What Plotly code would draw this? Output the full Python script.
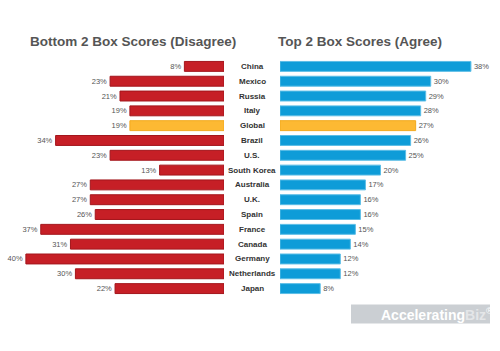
import plotly.graph_objects as go

countries = ["China", "Mexico", "Russia", "Italy", "Global", "Brazil", "U.S.", "South Korea",
             "Australia", "U.K.", "Spain", "France", "Canada", "Germany", "Netherlands", "Japan"]
disagree = [8, 23, 21, 19, 19, 34, 23, 13, 27, 27, 26, 37, 31, 40, 30, 22]
agree = [38, 30, 29, 28, 27, 26, 25, 20, 17, 16, 16, 15, 14, 12, 12, 8]
title_left = "Bottom 2 Box Scores (Disagree)"
title_right = "Top 2 Box Scores (Agree)"

RED, RED_LINE = "#C61F26", "#A3161C"
ORANGE, ORANGE_LINE = "#FDB933", "#F2A91E"
BLUE, BLUE_LINE = "#0E9CD8", "#5BBDE6"

left_colors = [ORANGE if c == "Global" else RED for c in countries]
left_lines = [ORANGE_LINE if c == "Global" else RED_LINE for c in countries]
right_colors = [ORANGE if c == "Global" else BLUE for c in countries]
right_lines = [ORANGE_LINE if c == "Global" else BLUE_LINE for c in countries]

FONT = "Liberation Sans, Arial, sans-serif"
W, H = 500, 351
T, B = 58.6, 54.6

fig = go.Figure()
fig.add_trace(go.Bar(
    y=countries, x=disagree, orientation="h", xaxis="x", yaxis="y",
    marker=dict(color=left_colors, line=dict(color=left_lines, width=1)),
    text=[f"{v}%" for v in disagree], textposition="outside", cliponaxis=False,
    textfont=dict(family=FONT, size=7.5, color="#555"), hoverinfo="skip"))
fig.add_trace(go.Bar(
    y=countries, x=agree, orientation="h", xaxis="x2", yaxis="y2",
    marker=dict(color=right_colors, line=dict(color=right_lines, width=1)),
    text=[f"{v}%" for v in agree], textposition="outside", cliponaxis=False,
    textfont=dict(family=FONT, size=7.5, color="#555"), hoverinfo="skip"))

ph = H - T - B
anns = []
for c in countries:
    anns.append(dict(x=252 / W, xref="paper", y=c, yref="y", text=f"<b>{c}</b>",
                     showarrow=False, xanchor="center", yanchor="middle",
                     font=dict(family=FONT, size=8, color="#333")))
ty = 1 + (T - 41) / ph
anns.append(dict(x=133 / W, y=ty, xref="paper", yref="paper", text=f"<b>{title_left}</b>",
                 showarrow=False, xanchor="center", yanchor="middle",
                 font=dict(family=FONT, size=13.5, color="#555")))
anns.append(dict(x=360 / W, y=ty, xref="paper", yref="paper", text=f"<b>{title_right}</b>",
                 showarrow=False, xanchor="center", yanchor="middle",
                 font=dict(family=FONT, size=13.5, color="#555")))
# watermark
anns.append(dict(x=437 / W, y=-((314.5 - (T + ph)) / ph), xref="paper", yref="paper",
                 text="<b>Accelerating<span style='color:#e4e6e8'>Biz</span></b><sup>®</sup>",
                 showarrow=False, xanchor="center", yanchor="middle",
                 font=dict(family=FONT, size=14, color="#ffffff")))

shapes = [dict(type="rect", xref="paper", yref="paper",
               x0=351 / W, x1=490 / W,
               y0=-((324 - (T + ph)) / ph), y1=-((305 - (T + ph)) / ph),
               fillcolor="#cbcfd3", line=dict(width=0), layer="below")]

fig.update_layout(
    width=W, height=H, margin=dict(l=0, r=0, t=T, b=B),
    paper_bgcolor="white", plot_bgcolor="white", showlegend=False,
    bargap=0.33,
    xaxis=dict(domain=[14 / W, 224 / W], range=[42.4, 0], visible=False),
    xaxis2=dict(domain=[280 / W, 490 / W], range=[0, 41.8], visible=False),
    yaxis=dict(anchor="x", autorange="reversed", visible=False, categoryorder="array", categoryarray=countries),
    yaxis2=dict(anchor="x2", autorange="reversed", visible=False, categoryorder="array", categoryarray=countries),
    annotations=anns, shapes=shapes,
)

fig.write_html("out.html")
